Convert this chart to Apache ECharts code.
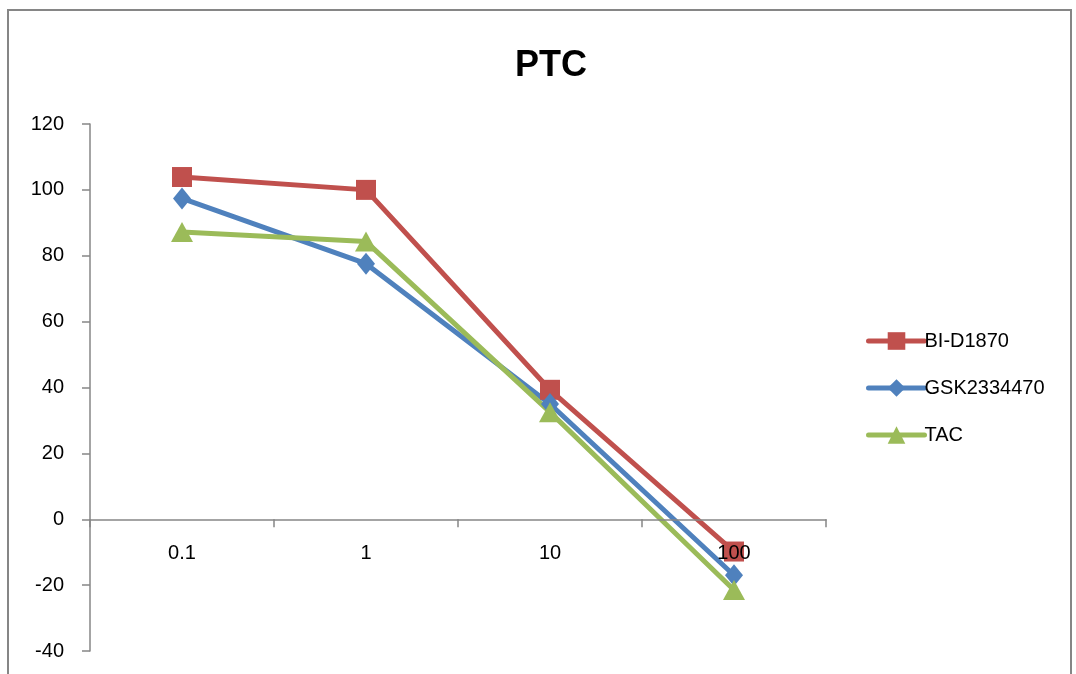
<!DOCTYPE html>
<html>
<head>
<meta charset="utf-8">
<style>
  html, body { margin: 0; padding: 0; background: #fff; }
  #chart { width: 1076px; height: 674px; }
</style>
<script src="https://cdn.jsdelivr.net/npm/echarts@6/dist/echarts.min.js"></script>
</head>
<body>
<div id="chart"></div>
<script>
// Concentrations (category axis)
const categories = ['0.1', '1', '10', '100'];

// Response values per compound
const biD1870 = [103.9, 100.0, 39.3, -9.8];
const gsk2334470 = [97.4, 77.6, 35.0, -17.0];
const tac = [87.2, 84.3, 32.5, -21.5];

const seriesNames = ['BI-D1870', 'GSK2334470', 'TAC'];
const seriesColors = ['#C0504D', '#4F81BD', '#9BBB59'];

// Value axis range
const yMin = -40;
const yMax = 120;
const yStep = 20;

const FONT = '"Liberation Sans", Arial, sans-serif';

const GRID_TOP = 124;
const GRID_BOTTOM_PX = 651;
const chart = echarts.init(document.getElementById('chart'));

// Pixel distance from the plot bottom up to the zero line, so the
// category axis (line, ticks and labels) sits on y = 0.
const zeroLift = (0 - yMin) / (yMax - yMin) * (GRID_BOTTOM_PX - GRID_TOP);

function lineSeries(name, data, color, symbol, size) {
  return {
    name: name,
    type: 'line',
    data: data,
    symbol: symbol,
    symbolSize: size,
    showAllSymbol: true,
    lineStyle: { color: color, width: 5, cap: 'round', join: 'round' },
    itemStyle: { color: color },
    emphasis: { disabled: true }
  };
}

chart.setOption({
  animation: false,
  backgroundColor: '#ffffff',
  graphic: [{
    type: 'rect',
    shape: { x: 8, y: 10, width: 1063, height: 700 },
    style: { fill: 'none', stroke: '#868686', lineWidth: 2 },
    silent: true
  }],
  title: {
    text: 'PTC',
    left: 546,
    textAlign: 'center',
    top: 43,
    textStyle: { fontFamily: FONT, fontSize: 36, fontWeight: 'bold', color: '#000' }
  },
  legend: {
    orient: 'vertical',
    left: 861,
    top: 326,
    itemWidth: 56,
    itemHeight: 22,
    itemGap: 27,
    data: seriesNames,
    lineStyle: { width: 5, cap: 'round' },
    textStyle: { fontFamily: FONT, fontSize: 20, color: '#000', padding: [0, 0, 0, -5] }
  },
  grid: {
    left: 90, right: 250, top: GRID_TOP, bottom: 674 - GRID_BOTTOM_PX,
    containLabel: false, outerBoundsMode: 'none'
  },
  xAxis: {
    type: 'category',
    data: categories,
    boundaryGap: true,
    z: 5,
    offset: -zeroLift,
    axisLine: { onZero: false, lineStyle: { color: '#868686', width: 1.5 } },
    axisTick: { show: true, length: 8, inside: false, lineStyle: { color: '#868686', width: 1.5 } },
    axisLabel: { margin: 24, fontFamily: FONT, fontSize: 20, color: '#000' },
    splitLine: { show: false }
  },
  yAxis: {
    type: 'value',
    min: yMin,
    max: yMax,
    interval: yStep,
    axisLine: { show: true, lineStyle: { color: '#868686', width: 1.5 } },
    axisTick: { show: true, length: 8, lineStyle: { color: '#868686', width: 1.5 } },
    axisLabel: { margin: 26, fontFamily: FONT, fontSize: 20, color: '#000' },
    splitLine: { show: false }
  },
  series: [
    lineSeries(seriesNames[0], biD1870, seriesColors[0], 'rect', 20),
    lineSeries(seriesNames[1], gsk2334470, seriesColors[1], 'diamond', [18, 22]),
    lineSeries(seriesNames[2], tac, seriesColors[2], 'triangle', [22, 20])
  ]
});
</script>
</body>
</html>
